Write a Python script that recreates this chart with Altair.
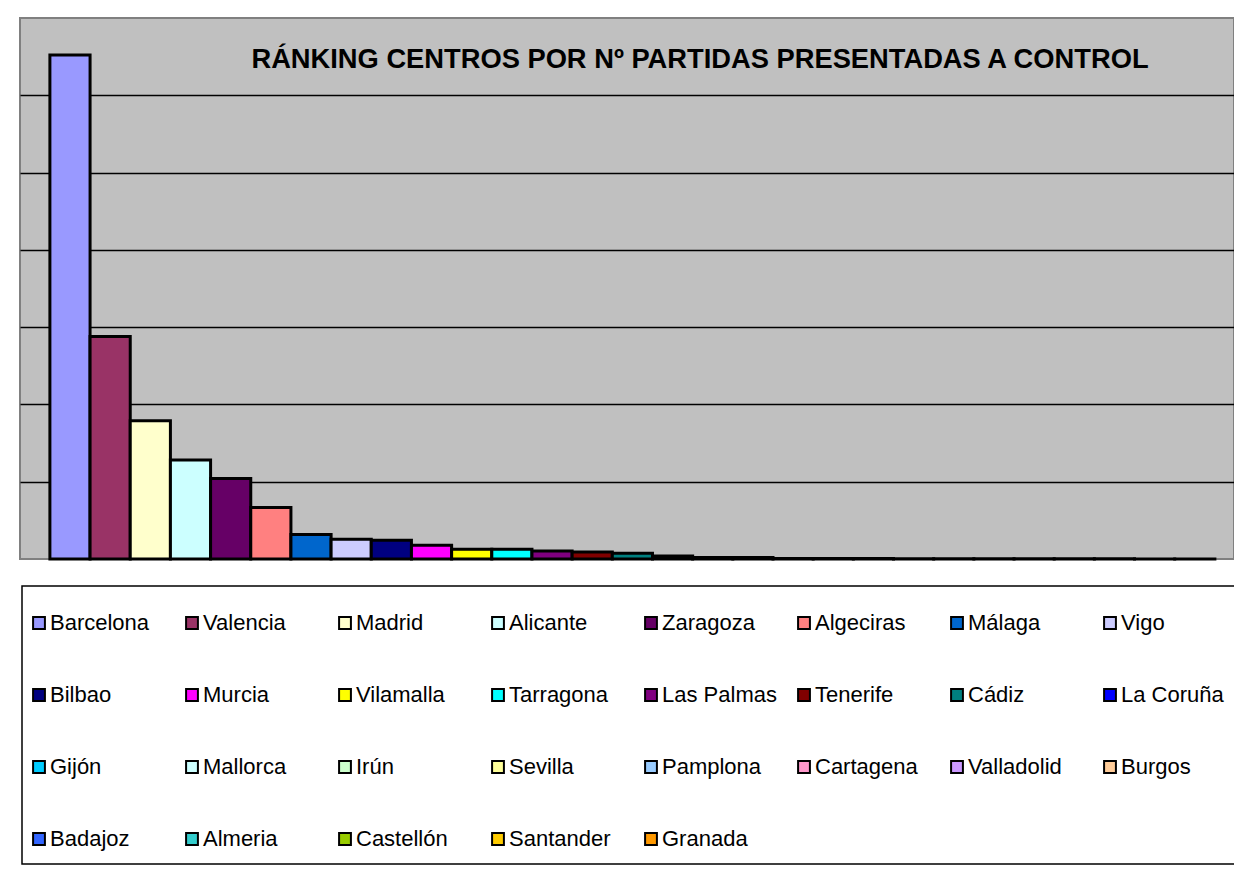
import altair as alt
import pandas as pd

TITLE = "RÁNKING CENTROS POR Nº PARTIDAS PRESENTADAS A CONTROL"

centros = ["Barcelona", "Valencia", "Madrid", "Alicante", "Zaragoza", "Algeciras",
           "Málaga", "Vigo", "Bilbao", "Murcia", "Vilamalla", "Tarragona",
           "Las Palmas", "Tenerife", "Cádiz", "La Coruña", "Gijón", "Mallorca",
           "Irún", "Sevilla", "Pamplona", "Cartagena", "Valladolid", "Burgos",
           "Badajoz", "Almeria", "Castellón", "Santander", "Granada"]

partidas = [6520, 2880, 1790, 1280, 1040, 665, 316, 255, 242, 177, 125, 125,
            104, 90, 74, 39, 18, 18, 6, 5, 5, 4, 4, 3, 3, 2, 2, 1, 1]

colores = ["#9999FF", "#993366", "#FFFFCC", "#CCFFFF", "#660066", "#FF8080",
           "#0066CC", "#CCCCFF", "#000080", "#FF00FF", "#FFFF00", "#00FFFF",
           "#800080", "#800000", "#008080", "#0000FF", "#00CCFF", "#CCFFFF",
           "#CCFFCC", "#FFFF99", "#99CCFF", "#FF99CC", "#CC99FF", "#FFCC99",
           "#3366FF", "#33CCCC", "#99CC00", "#FFCC00", "#FF9900"]

df = pd.DataFrame({"centro": centros, "partidas": partidas})
tdf = pd.DataFrame({"t": [TITLE]})

FONT = "Liberation Sans"

bars = alt.Chart(df).mark_bar(stroke="black", strokeWidth=3, opacity=1).encode(
    x=alt.X("centro:N", sort=centros, axis=None,
            scale=alt.Scale(paddingInner=0, paddingOuter=0.61, align=0.61)),
    y=alt.Y("partidas:Q", scale=alt.Scale(domain=[0, 7000], nice=False),
            axis=alt.Axis(values=[1000, 2000, 3000, 4000, 5000, 6000],
                          grid=True, gridColor="black", gridWidth=1.5, gridOpacity=1,
                          labels=False, ticks=False, domain=False, title=None)),
    color=alt.Color("centro:N", sort=centros,
                    scale=alt.Scale(domain=centros, range=colores),
                    legend=alt.Legend(orient="none", legendX=8, legendY=594,
                                      direction="horizontal", columns=8,
                                      columnPadding=16, rowPadding=50,
                                      symbolType="square", symbolSize=140,
                                      symbolStrokeColor="black", symbolStrokeWidth=2,
                                      symbolOpacity=1,
                                      labelFont=FONT, labelFontSize=22,
                                      labelColor="black", labelOffset=0,
                                      labelLimit=0, gridAlign="all",
                                      title=None, padding=0)),
)

title = alt.Chart(tdf).mark_text(font=FONT, fontSize=27.3, fontWeight="bold",
                                 color="black", align="center",
                                 baseline="middle").encode(
    text="t:N", x=alt.value(680), y=alt.value(42))

legend_box = alt.Chart(tdf).mark_rect(fill="white", stroke="black",
                                      strokeWidth=1.5).encode(
    x=alt.value(2), x2=alt.value(1400), y=alt.value(568), y2=alt.value(846))

chart = alt.layer(legend_box, bars, title).properties(
    width=1214, height=541,
    padding={"left": 12, "top": 10, "right": 0, "bottom": 307},
    autosize=alt.AutoSizeParams(type="none"),
    background="white",
).configure_view(fill="#C0C0C0", stroke="#808080", strokeWidth=2)

chart.save("out.html", embed_options={"renderer": "svg", "actions": False})
